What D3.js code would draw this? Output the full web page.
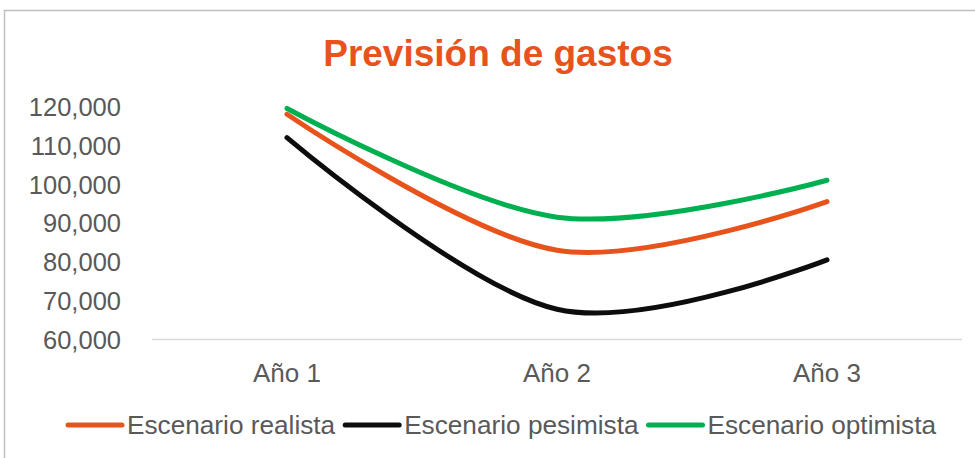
<!DOCTYPE html>
<html>
<head>
<meta charset="utf-8">
<script src="https://cdn.jsdelivr.net/npm/d3@7"></script>
<style>
html, body { margin: 0; padding: 0; background: #fff; }
svg { display: block; }
</style>
</head>
<body>
<svg id="chart" width="975" height="458"></svg>
<script>
const categories = ["Año 1", "Año 2", "Año 3"];
const seriesNames = ["Escenario realista", "Escenario pesimista", "Escenario optimista"];
const realista = [118000, 83000, 95500];
const pesimista = [112000, 67800, 80500];
const optimista = [119500, 91500, 101000];
const yTicks = [60000, 70000, 80000, 90000, 100000, 110000, 120000];
const seriesColors = ["#E8531C", "#0D0D0D", "#00B050"];
const title = "Previsión de gastos";

const series = [realista, pesimista, optimista];

const svg = d3.select("#chart");
const font = "'Liberation Sans', Arial, sans-serif";

// frame
svg.append("rect")
  .attr("x", 4.5).attr("y", 10.5)
  .attr("width", 1000).attr("height", 500)
  .attr("fill", "#fff")
  .attr("stroke", "#BFBFBF").attr("stroke-width", 1.5);

// title
svg.append("text")
  .attr("x", 498).attr("y", 66)
  .attr("text-anchor", "middle")
  .attr("font-family", font)
  .attr("font-weight", "bold")
  .attr("font-size", 37)
  .attr("fill", "#E8531C")
  .text(title);

const x = d3.scaleBand().domain(categories).range([152, 962]);
const y = d3.scaleLinear().domain([60000, 120000]).range([339.5, 106.5]);

// y axis labels
const yAxis = d3.axisLeft(y).tickValues(yTicks).tickSize(0).tickPadding(0)
  .tickFormat(d3.format(","));
const gy = svg.append("g").attr("transform", "translate(121,0)").call(yAxis);
gy.select(".domain").remove();
gy.selectAll("text")
  .attr("font-family", font).attr("font-size", 25.5).attr("fill", "#595959")
  .attr("dy", "0.35em");

// x axis
const xAxis = d3.axisBottom(x).tickSize(0).tickPadding(0);
const gx = svg.append("g").attr("transform", `translate(0,${y(60000)})`).call(xAxis);
gx.select(".domain").attr("stroke", "#D9D9D9").attr("stroke-width", 1.5)
  .attr("d", `M152,0H962`);
gx.selectAll("text")
  .attr("font-family", font).attr("font-size", 26).attr("fill", "#595959")
  .attr("y", 33).attr("dy", "0.35em");

// lines
const line = d3.line()
  .x((d, i) => x(categories[i]) + x.bandwidth() / 2)
  .y(d => y(d))
  .curve(d3.curveCardinal.tension(0));

series.forEach((s, i) => {
  svg.append("path")
    .datum(s)
    .attr("d", line)
    .attr("fill", "none")
    .attr("stroke", seriesColors[i])
    .attr("stroke-width", 5)
    .attr("stroke-linecap", "round")
    .attr("stroke-linejoin", "round");
});

// legend
const legend = svg.append("g").attr("transform", "translate(0,425)");
seriesNames.forEach((name, i) => {
  const g = legend.append("g");
  g.append("line").attr("x1", 0).attr("x2", 54).attr("y1", 0).attr("y2", 0)
    .attr("stroke", seriesColors[i]).attr("stroke-width", 5)
    .attr("stroke-linecap", "round");
  g.append("text").attr("x", 59).attr("y", 0).attr("dy", "0.35em")
    .attr("font-family", font).attr("font-size", 26.2).attr("fill", "#595959")
    .text(name);
});

let cx = 68;
legend.selectAll("g").each(function() {
  const g = d3.select(this);
  g.attr("transform", `translate(${cx},0)`);
  const w = g.select("text").node().getComputedTextLength();
  cx += 59 + w + 10;
});
</script>
</body>
</html>
